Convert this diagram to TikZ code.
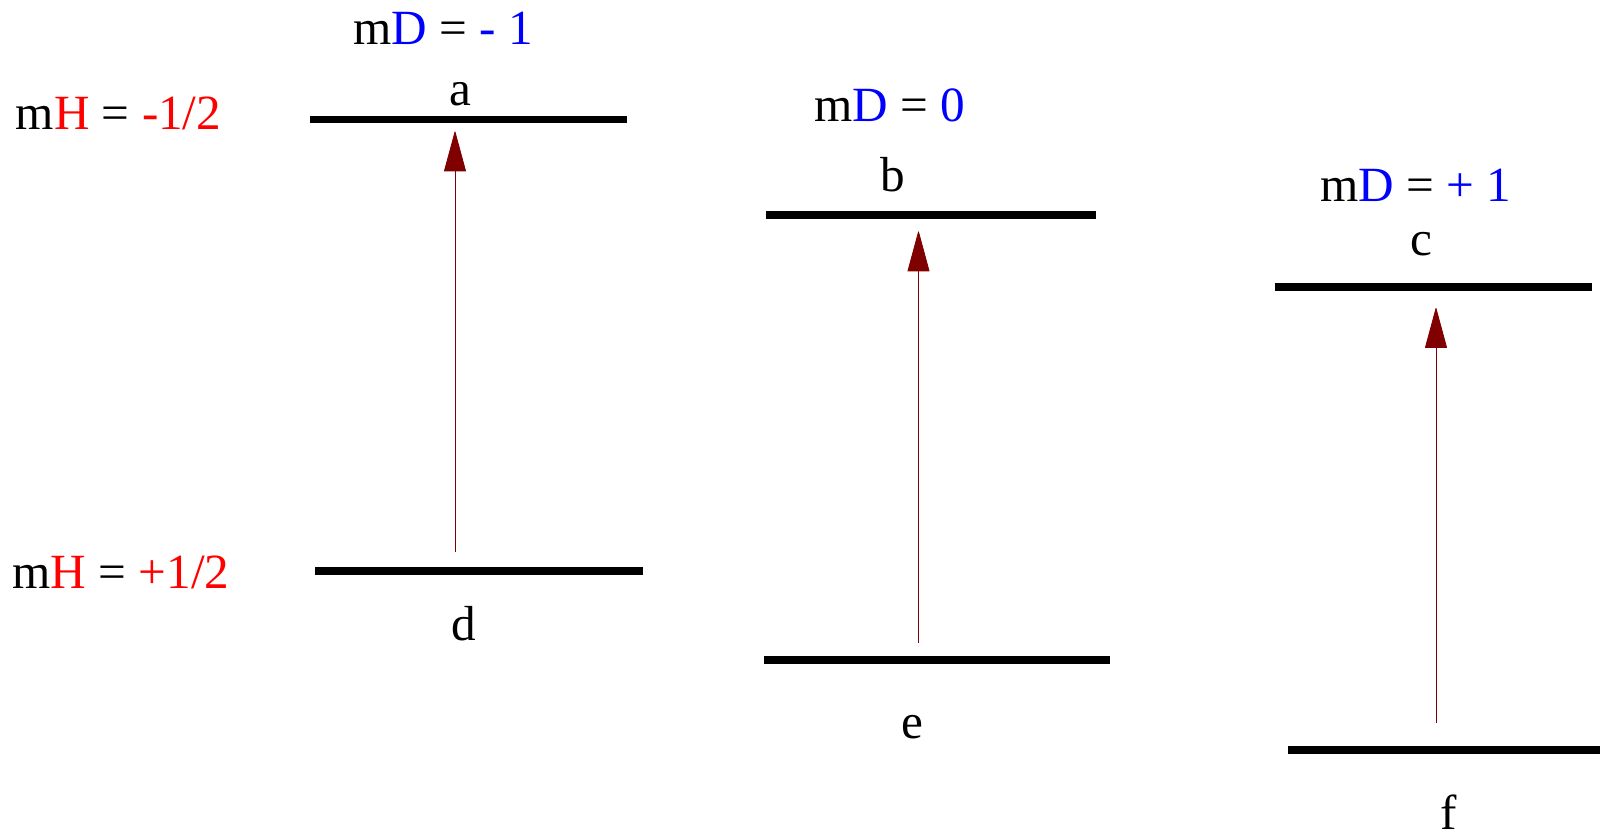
\documentclass[tikz,border=0pt]{standalone}
\usepackage{fontspec}
\setmainfont{Liberation Serif}
\usepackage{xcolor}
\definecolor{mhRed}{RGB}{255,0,0}
\definecolor{mdBlue}{RGB}{0,0,255}
\definecolor{transRed}{RGB}{128,0,0}
\usepackage{tikz}
\usetikzlibrary{arrows.meta}

\begin{document}
\begin{tikzpicture}[>=Stealth,
  level/.style={fill=black, inner sep=0pt, minimum height=0.15cm},
  lbl/.style={anchor=base, inner sep=0pt, font=\fontsize{28}{34}\selectfont},
  trans/.style={-{Triangle[length=0.82cm,width=0.44cm,round]}, transRed, line width=0.45pt}]
  \useasboundingbox (0,0) rectangle (32,16.7);
  % energy levels
  \node[level, minimum width=6.34cm] (levA) at (9.37,14.31) {};
  \node[level, minimum width=6.56cm] (levD) at (9.58,5.28) {};
  \node[level, minimum width=6.60cm] (levB) at (18.62,12.40) {};
  \node[level, minimum width=6.92cm] (levE) at (18.74,3.50) {};
  \node[level, minimum width=6.35cm] (levC) at (28.665,10.96) {};
  \node[level, minimum width=6.24cm] (levF) at (28.88,1.70) {};
  % level names
  \node[lbl] (nameA) at (9.20,14.58) {a};
  \node[lbl] (nameD) at (9.28,3.90) {d};
  \node[lbl] (nameB) at (17.86,12.86) {b};
  \node[lbl] (nameE) at (18.24,1.94) {e};
  \node[lbl] (nameC) at (28.42,11.58) {c};
  \node[lbl] (nameF) at (28.98,0.12) {f};
  % quantum numbers
  \node[lbl, anchor=base west] (mhUp) at (0.31,14.11) {m\textcolor{mhRed}{H} = \textcolor{mhRed}{-1/2}};
  \node[lbl, anchor=base west] (mhDown) at (0.245,4.94) {m\textcolor{mhRed}{H} = \textcolor{mhRed}{+1/2}};
  \node[lbl, anchor=base west] (mdMinus) at (7.06,15.80) {m\textcolor{mdBlue}{D} = \textcolor{mdBlue}{- 1}};
  \node[lbl, anchor=base west] (mdZero) at (16.28,14.27) {m\textcolor{mdBlue}{D} = \textcolor{mdBlue}{0}};
  \node[lbl, anchor=base west] (mdPlus) at (26.40,12.66) {m\textcolor{mdBlue}{D} = \textcolor{mdBlue}{+ 1}};
  % transitions
  \coordinate (dUp)  at (9.10,5.66);
  \coordinate (aLow) at (9.10,14.07);
  \coordinate (eUp)  at (18.37,3.84);
  \coordinate (bLow) at (18.37,12.07);
  \coordinate (fUp)  at (28.72,2.24);
  \coordinate (cLow) at (28.72,10.54);
  \draw[trans] (dUp) -- (aLow);
  \draw[trans] (eUp) -- (bLow);
  \draw[trans] (fUp) -- (cLow);
\end{tikzpicture}
\end{document}
